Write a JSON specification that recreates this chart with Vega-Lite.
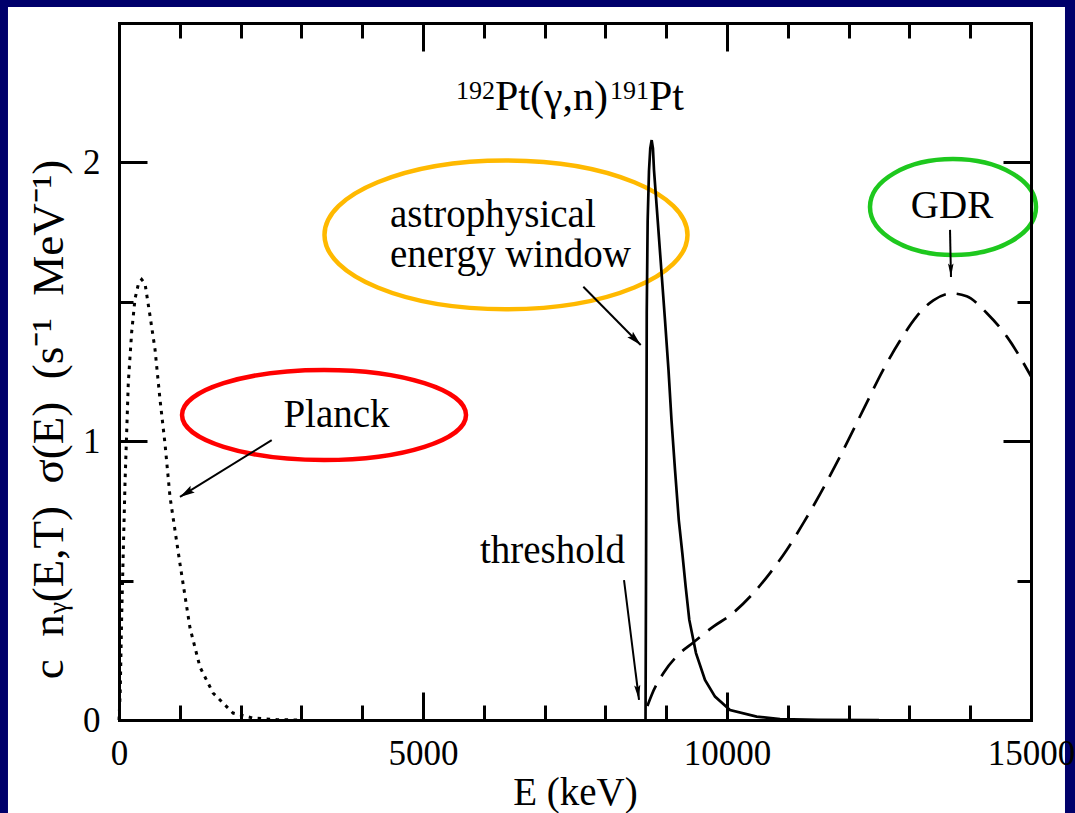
{
  "$schema": "https://vega.github.io/schema/vega-lite/v6.json",
  "width": 912,
  "height": 697,
  "autosize": "none",
  "padding": {"left": 119, "top": 23, "right": 44, "bottom": 93},
  "background": "#00006b",
  "config": {
    "view": {"stroke": null},
    "axis": {"grid": false, "domain": false, "labelFont": "Liberation Serif", "titleFont": "Liberation Serif", "labelColor": "black", "titleColor": "black", "tickColor": "black", "domainColor": "black", "titleFontWeight": "normal", "zindex": 1},
    "text": {"font": "Liberation Serif", "color": "black"}
  },
  "datasets": {
    "planck": [
      {"E": 0, "v": 0}, {"E": 20, "v": 0.1}, {"E": 44, "v": 0.37}, {"E": 71, "v": 0.61}, {"E": 99, "v": 0.85},
      {"E": 126, "v": 1.03}, {"E": 153, "v": 1.21}, {"E": 208, "v": 1.39}, {"E": 263, "v": 1.51}, {"E": 320, "v": 1.565},
      {"E": 373, "v": 1.58}, {"E": 428, "v": 1.565}, {"E": 510, "v": 1.45}, {"E": 592, "v": 1.33}, {"E": 674, "v": 1.15},
      {"E": 757, "v": 0.99}, {"E": 839, "v": 0.8}, {"E": 1003, "v": 0.56}, {"E": 1168, "v": 0.33}, {"E": 1332, "v": 0.19},
      {"E": 1546, "v": 0.097}, {"E": 1875, "v": 0.025}, {"E": 2204, "v": 0.007}, {"E": 2600, "v": 0.001}, {"E": 3000, "v": 0}
    ],
    "astro": [
      {"E": 8660, "v": 0}, {"E": 8668, "v": 0.5}, {"E": 8675, "v": 1.0}, {"E": 8680, "v": 1.46}, {"E": 8695, "v": 1.79},
      {"E": 8717, "v": 1.97}, {"E": 8738, "v": 2.05}, {"E": 8761, "v": 2.08}, {"E": 8782, "v": 2.05}, {"E": 8799, "v": 1.973},
      {"E": 8860, "v": 1.793}, {"E": 8920, "v": 1.614}, {"E": 8980, "v": 1.435}, {"E": 9038, "v": 1.255}, {"E": 9087, "v": 1.076},
      {"E": 9145, "v": 0.897}, {"E": 9207, "v": 0.717}, {"E": 9265, "v": 0.599}, {"E": 9320, "v": 0.478}, {"E": 9380, "v": 0.359},
      {"E": 9490, "v": 0.24}, {"E": 9638, "v": 0.144}, {"E": 9803, "v": 0.084}, {"E": 10049, "v": 0.036}, {"E": 10488, "v": 0.012},
      {"E": 10872, "v": 0.003}, {"E": 11500, "v": 0.0005}, {"E": 12500, "v": 0}
    ],
    "gdr": [
      {"E": 8690, "v": 0.05}, {"E": 8761, "v": 0.09}, {"E": 8953, "v": 0.168}, {"E": 9227, "v": 0.24}, {"E": 9446, "v": 0.278},
      {"E": 9775, "v": 0.335}, {"E": 10049, "v": 0.375}, {"E": 10433, "v": 0.455}, {"E": 10707, "v": 0.527}, {"E": 10982, "v": 0.61},
      {"E": 11255, "v": 0.706}, {"E": 11530, "v": 0.81}, {"E": 11859, "v": 0.945}, {"E": 12242, "v": 1.113}, {"E": 12571, "v": 1.257},
      {"E": 12845, "v": 1.36}, {"E": 13120, "v": 1.448}, {"E": 13394, "v": 1.505}, {"E": 13696, "v": 1.53}, {"E": 13942, "v": 1.52},
      {"E": 14271, "v": 1.46}, {"E": 14600, "v": 1.376}, {"E": 15000, "v": 1.233}
    ],
    "arrows": [
      {"E": 2512, "v": 1.004, "E2": 1003, "v2": 0.8},
      {"E": 7637, "v": 1.554, "E2": 8581, "v2": 1.345},
      {"E": 8306, "v": 0.502, "E2": 8553, "v2": 0.072},
      {"E": 13668, "v": 1.758, "E2": 13684, "v2": 1.589}
    ]
  },
  "layer": [
    {
      "data": {"values": [{}]},
      "mark": {"type": "rect", "fill": "white"},
      "encoding": {
        "x": {"datum": -1826, "type": "quantitative", "scale": {"domain": [0, 15000], "nice": false, "zero": false}, "axis": null},
        "x2": {"datum": 15559},
        "y": {"datum": 2.557, "type": "quantitative", "scale": {"domain": [0, 2.5], "nice": false, "zero": false}, "axis": null},
        "y2": {"datum": -0.4}
      }
    },
    {
      "data": {"values": [{"E": 3372, "v": 1.094}]},
      "mark": {"type": "point", "filled": false, "stroke": "#ff0000", "strokeWidth": 4.5, "opacity": 1, "size": 80656,
        "shape": "M 1 0 C 1 0.175 0.5523 0.317 0 0.317 C -0.5523 0.317 -1 0.175 -1 0 C -1 -0.175 -0.5523 -0.317 0 -0.317 C 0.5523 -0.317 1 -0.175 1 0 Z"},
      "encoding": {"x": {"field": "E", "type": "quantitative", "axis": null}, "y": {"field": "v", "type": "quantitative", "axis": null}}
    },
    {
      "data": {"values": [{"E": 6365, "v": 1.74}]},
      "mark": {"type": "point", "filled": false, "stroke": "#ffb900", "strokeWidth": 4.5, "opacity": 1, "size": 131769,
        "shape": "M 1 0 C 1 0.2267 0.5523 0.41 0 0.41 C -0.5523 0.41 -1 0.2267 -1 0 C -1 -0.2267 -0.5523 -0.41 0 -0.41 C 0.5523 -0.41 1 -0.2267 1 0 Z"},
      "encoding": {"x": {"field": "E", "type": "quantitative", "axis": null}, "y": {"field": "v", "type": "quantitative", "axis": null}}
    },
    {
      "data": {"values": [{"E": 13717, "v": 1.84}]},
      "mark": {"type": "point", "filled": false, "stroke": "#1ec81e", "strokeWidth": 4.5, "opacity": 1, "size": 27556,
        "shape": "M 1 0 C 1 0.3194 0.5523 0.578 0 0.578 C -0.5523 0.578 -1 0.3194 -1 0 C -1 -0.3194 -0.5523 -0.578 0 -0.578 C 0.5523 -0.578 1 -0.3194 1 0 Z"},
      "encoding": {"x": {"field": "E", "type": "quantitative", "axis": null}, "y": {"field": "v", "type": "quantitative", "axis": null}}
    },
    {
      "data": {"name": "planck"},
      "mark": {"type": "line", "color": "black", "strokeWidth": 3, "strokeDash": [3.5, 5.5]},
      "encoding": {
        "x": {"field": "E", "type": "quantitative",
          "axis": {"zindex": 2, "orient": "bottom", "values": [0, 5000, 10000, 15000], "format": "d", "ticks": false, "labelFontSize": 35, "labelPadding": 16, "labelFlush": false, "labelOverlap": false, "title": "E (keV)", "titleFontSize": 39, "titlePadding": 2}},
        "y": {"field": "v", "type": "quantitative",
          "axis": {"zindex": 2, "orient": "left", "values": [0, 1, 2], "format": "d", "ticks": false, "labelFontSize": 35, "labelPadding": 19, "labelFlush": false, "labelOverlap": false,
            "title": "c\u2002nᵧ(E,T)\u2002σ(E)\u2002(s⁻¹\u2002MeV⁻¹)", "titleFontSize": 45, "titleAngle": 270, "titleAlign": "center", "titleBaseline": "middle", "titleX": -71, "titleY": 396}}
      }
    },
    {
      "data": {"name": "astro"},
      "mark": {"type": "line", "color": "black", "strokeWidth": 2.7},
      "encoding": {
        "x": {"field": "E", "type": "quantitative",
          "axis": {"zindex": 2, "orient": "bottom", "values": [0, 5000, 10000, 15000], "labels": false, "tickSize": -28, "tickWidth": 3, "domain": true, "domainWidth": 3, "domainCap": "square", "title": null}},
        "y": {"field": "v", "type": "quantitative",
          "axis": {"zindex": 2, "orient": "left", "values": [0, 1, 2], "labels": false, "tickSize": -28, "tickWidth": 3, "domain": true, "domainWidth": 3, "domainCap": "square", "title": null}}
      }
    },
    {
      "data": {"name": "gdr"},
      "mark": {"type": "line", "color": "black", "strokeWidth": 2.7, "strokeDash": [22, 11], "interpolate": "monotone"},
      "encoding": {
        "x": {"field": "E", "type": "quantitative",
          "axis": {"zindex": 2, "orient": "bottom", "values": [1000, 2000, 3000, 4000, 6000, 7000, 8000, 9000, 11000, 12000, 13000, 14000], "labels": false, "tickSize": -15, "tickWidth": 3, "title": null}},
        "y": {"field": "v", "type": "quantitative",
          "axis": {"zindex": 2, "orient": "left", "values": [0.5, 1.5], "labels": false, "tickSize": -14, "tickWidth": 3, "title": null}}
      }
    },
    {
      "data": {"name": "arrows"},
      "mark": {"type": "rule", "color": "black", "strokeWidth": 2},
      "encoding": {
        "x": {"field": "E", "type": "quantitative", "axis": null},
        "y": {"field": "v", "type": "quantitative", "axis": null},
        "x2": {"field": "E2"},
        "y2": {"field": "v2"}
      }
    },
    {
      "data": {"values": [{"E": 1003, "v": 0.8}]},
      "mark": {"type": "point", "filled": true, "color": "black", "opacity": 1, "size": 310, "angle": 238, "shape": "M 0 0 L 0.45 1.7 L 0 1.4 L -0.45 1.7 Z"},
      "encoding": {"x": {"field": "E", "type": "quantitative", "axis": null}, "y": {"field": "v", "type": "quantitative", "axis": null}}
    },
    {
      "data": {"values": [{"E": 8581, "v": 1.345}]},
      "mark": {"type": "point", "filled": true, "color": "black", "opacity": 1, "size": 310, "angle": 135, "shape": "M 0 0 L 0.45 1.7 L 0 1.4 L -0.45 1.7 Z"},
      "encoding": {"x": {"field": "E", "type": "quantitative", "axis": null}, "y": {"field": "v", "type": "quantitative", "axis": null}}
    },
    {
      "data": {"values": [{"E": 8553, "v": 0.072}]},
      "mark": {"type": "point", "filled": true, "color": "black", "opacity": 1, "size": 310, "angle": 173, "shape": "M 0 0 L 0.35 1.7 L 0 1.4 L -0.35 1.7 Z"},
      "encoding": {"x": {"field": "E", "type": "quantitative", "axis": null}, "y": {"field": "v", "type": "quantitative", "axis": null}}
    },
    {
      "data": {"values": [{"E": 13684, "v": 1.589}]},
      "mark": {"type": "point", "filled": true, "color": "black", "opacity": 1, "size": 250, "angle": 179, "shape": "M 0 0 L 0.35 1.7 L 0 1.4 L -0.35 1.7 Z"},
      "encoding": {"x": {"field": "E", "type": "quantitative", "axis": null}, "y": {"field": "v", "type": "quantitative", "axis": null}}
    },
    {
      "data": {"values": [{"E": 3577, "v": 1.052, "label": "Planck"}, {"E": 7130, "v": 0.563, "label": "threshold"}, {"E": 13701, "v": 1.8, "label": "GDR"}]},
      "mark": {"type": "text", "fontSize": 39, "align": "center", "baseline": "alphabetic"},
      "encoding": {"x": {"field": "E", "type": "quantitative", "axis": null}, "y": {"field": "v", "type": "quantitative", "axis": null}, "text": {"field": "label"}}
    },
    {
      "data": {"values": [{"E": 4457, "v": 1.769, "label": "astrophysical"}, {"E": 4457, "v": 1.624, "label": "energy window"}]},
      "mark": {"type": "text", "fontSize": 39, "align": "left", "baseline": "alphabetic"},
      "encoding": {"x": {"field": "E", "type": "quantitative", "axis": null}, "y": {"field": "v", "type": "quantitative", "axis": null}, "text": {"field": "label"}}
    },
    {
      "data": {"values": [{"E": 6184, "v": 2.188, "label": "Pt(γ,n)"}, {"E": 8717, "v": 2.188, "label": "Pt"}]},
      "mark": {"type": "text", "fontSize": 42, "align": "left", "baseline": "alphabetic"},
      "encoding": {
        "x": {"field": "E", "type": "quantitative",
          "axis": {"zindex": 2, "orient": "top", "values": [0, 5000, 10000, 15000], "labels": false, "tickSize": -28, "tickWidth": 3, "domain": true, "domainWidth": 3, "domainCap": "square", "title": null}},
        "y": {"field": "v", "type": "quantitative",
          "axis": {"zindex": 2, "orient": "right", "values": [0, 1, 2], "labels": false, "tickSize": -28, "tickWidth": 3, "domain": true, "domainWidth": 3, "domainCap": "square", "title": null}},
        "text": {"field": "label"}
      }
    },
    {
      "data": {"values": [{"E": 5543, "v": 2.227, "label": "192"}, {"E": 8076, "v": 2.227, "label": "191"}]},
      "mark": {"type": "text", "fontSize": 26, "align": "left", "baseline": "alphabetic"},
      "encoding": {
        "x": {"field": "E", "type": "quantitative",
          "axis": {"zindex": 2, "orient": "top", "values": [1000, 2000, 3000, 4000, 6000, 7000, 8000, 9000, 11000, 12000, 13000, 14000], "labels": false, "tickSize": -15, "tickWidth": 3, "title": null}},
        "y": {"field": "v", "type": "quantitative",
          "axis": {"zindex": 2, "orient": "right", "values": [0.5, 1.5], "labels": false, "tickSize": -14, "tickWidth": 3, "title": null}},
        "text": {"field": "label"}
      }
    }
  ],
  "resolve": {"axis": {"x": "independent", "y": "independent"}}
}
